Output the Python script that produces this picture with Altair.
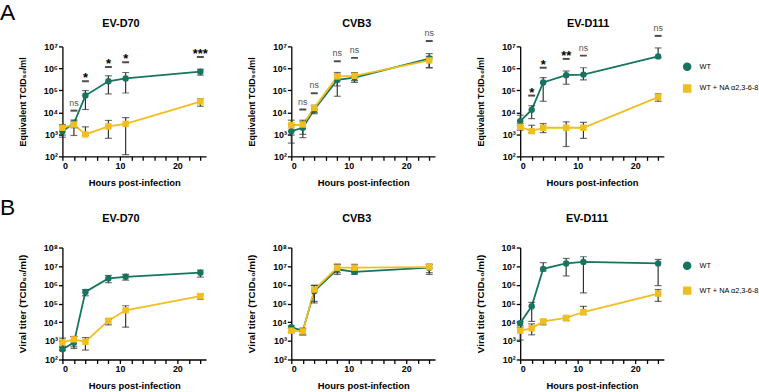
import altair as alt
import pandas as pd

FONT = "Liberation Sans"
GREEN = "#16745f"
YELLOW = "#f0bf1f"
EB = "#333333"

hours = [0, 2, 4, 8, 11, 24]
groups = ["WT", "WT + NA α2,3-6-8"]

# ---- Row A: Equivalent TCID50/ml ----
a_d70_wt = [1.4e3, 3.2e3, 5.8e4, 2.6e5, 3.5e5, 7.1e5]
a_d70_wt_lo = [7.4e2, 2.0e3, 1.35e4, 6.9e4, 7.6e4, 4.9e5]
a_d70_wt_hi = [2.8e3, 4.5e3, 9.8e4, 4.6e5, 6.5e5, 9.1e5]
a_d70_na = [2.0e3, 2.8e3, 1.0e3, 2.3e3, 3.0e3, 3.1e4]
a_d70_na_lo = [9.3e2, 8.9e2, 9.0e2, 6.6e2, 1.2e2, 1.9e4]
a_d70_na_hi = [2.6e3, 4.0e3, 2.2e3, 4.3e3, 5.8e3, 4.1e4]
a_d70_sig_h = [2, 4, 8, 11, 24]
a_d70_sig_t = ["ns", "*", "*", "*", "***"]
a_d70_sig_y = [1.2e4, 2.6e5, 1.15e6, 1.9e6, 3.3e6]

a_cvb3_wt = [1.4e3, 2.0e3, 1.35e4, 3.0e5, 3.8e5, 2.8e6]
a_cvb3_wt_lo = [4.0e2, 7.1e2, 8.7e3, 5.4e4, 2.3e5, 1.07e6]
a_cvb3_wt_hi = [2.8e3, 3.7e3, 2.0e4, 5.4e5, 6.0e5, 4.7e6]
a_cvb3_na = [2.6e3, 2.8e3, 1.6e4, 4.3e5, 4.6e5, 2.3e6]
a_cvb3_na_lo = [9.3e2, 1.0e3, 1.0e4, 1.6e5, 2.8e5, 1.07e6]
a_cvb3_na_hi = [4.4e3, 4.4e3, 2.1e4, 6.5e5, 6.5e5, 3.5e6]
a_cvb3_sig_h = [2, 4, 8, 11, 24]
a_cvb3_sig_t = ["ns", "ns", "ns", "ns", "ns"]
a_cvb3_sig_y = [1.35e4, 7.4e4, 2.1e6, 3.0e6, 1.75e7]

a_d111_wt = [4.0e3, 1.3e4, 2.3e5, 4.9e5, 5.2e5, 3.5e6]
a_d111_wt_lo = [2.5e3, 5.2e3, 3.2e4, 1.9e5, 3.0e5, 3.0e6]
a_d111_wt_hi = [7.4e3, 2.0e4, 3.8e5, 7.6e5, 1.07e6, 8.5e6]
a_d111_na = [2.2e3, 1.4e3, 2.0e3, 2.0e3, 2.0e3, 4.9e4]
a_d111_na_lo = [1.55e3, 1.2e3, 1.2e3, 2.8e2, 6.6e2, 3.2e4]
a_d111_na_hi = [3.1e3, 2.6e3, 3.1e3, 3.7e3, 3.5e3, 6.9e4]
a_d111_sig_h = [2, 4, 8, 11, 24]
a_d111_sig_t = ["*", "*", "**", "ns", "ns"]
a_d111_sig_y = [5.8e4, 1.07e6, 2.7e6, 3.8e6, 3.0e7]

# ---- Row B: Viral titer (TCID50/ml) ----
b_d70_wt = [3.5e2, 8.0e2, 4.2e5, 2.2e6, 2.7e6, 4.5e6]
b_d70_wt_lo = [3.0e2, 3.9e2, 2.6e5, 1.3e6, 1.8e6, 2.6e6]
b_d70_wt_hi = [4.5e2, 1.7e3, 5.6e5, 3.2e6, 3.6e6, 6.2e6]
b_d70_na = [8.3e2, 1.2e3, 8.9e2, 1.2e4, 4.3e4, 2.5e5]
b_d70_na_lo = [5.2e2, 4.8e2, 3.2e2, 7.2e3, 5.4e3, 1.7e5]
b_d70_na_hi = [1.4e3, 1.7e3, 1.5e3, 1.5e4, 7.6e4, 3.2e5]

b_cvb3_wt = [5.4e3, 3.4e3, 4.6e5, 6.8e6, 5.0e6, 8.3e6]
b_cvb3_wt_lo = [4.6e3, 2.1e3, 1.07e5, 3.6e6, 3.6e6, 3.6e6]
b_cvb3_wt_hi = [6.3e3, 4.8e3, 9.5e5, 1.26e7, 6.8e6, 1.26e7]
b_cvb3_na = [3.5e3, 3.2e3, 5.6e5, 8.3e6, 8.3e6, 8.9e6]
b_cvb3_na_lo = [2.8e3, 2.1e3, 1.3e5, 4.5e6, 4.5e6, 4.5e6]
b_cvb3_na_hi = [4.8e3, 4.3e3, 9.3e5, 1.26e7, 1.26e7, 1.26e7]

b_d111_wt = [8.9e3, 7.1e4, 7.2e6, 1.4e7, 1.7e7, 1.4e7]
b_d111_wt_lo = [6.3e3, 1.1e4, 5.5e6, 3.0e6, 3.7e5, 9.1e5]
b_d111_wt_hi = [1.1e4, 1.15e5, 1.55e7, 2.6e7, 3.2e7, 2.3e7]
b_d111_na = [3.5e3, 4.7e3, 1.1e4, 1.7e4, 3.5e4, 3.4e5]
b_d111_na_lo = [1.1e3, 2.1e3, 7.2e3, 1.2e4, 2.5e4, 1.3e5]
b_d111_na_hi = [5.0e3, 8.1e3, 1.35e4, 2.0e4, 7.1e4, 5.6e5]

SUP = "['⁰','¹','²','³','⁴','⁵','⁶','⁷','⁸','⁹']"


def panel(vals, sig, title, title_x, title_y, ytitle, ytitle_size, ymax_exp, height,
          legend_pos=None, label=None, label_y=-27):
    wt, wt_lo, wt_hi, na, na_lo, na_hi = vals
    df = pd.DataFrame({
        "hours": hours + hours,
        "mean": wt + na,
        "lo": wt_lo + na_lo,
        "hi": wt_hi + na_hi,
        "group": [groups[0]] * len(hours) + [groups[1]] * len(hours),
    })
    base = alt.Chart(df)
    xaxis = alt.Axis(values=list(range(0, 25, 2)),
                     labelExpr="datum.value % 10 === 0 ? datum.label : ''",
                     title="Hours post-infection")
    xscale = alt.Scale(domain=[0, 25], nice=False, zero=False)
    yscale = alt.Scale(type="log", domain=[1e2, 10 ** ymax_exp], nice=False)
    yaxis = alt.Axis(values=[10 ** k for k in range(2, ymax_exp + 1)],
                     labelExpr="'10' + " + SUP + "[round(log(datum.value)/LN10)]",
                     title=ytitle, titleFontSize=ytitle_size)

    def X():
        return alt.X("hours:Q", scale=xscale, axis=xaxis)

    def Y(f):
        return alt.Y(f + ":Q", scale=yscale, axis=yaxis)

    if legend_pos is not None:
        lx, ly, rp = legend_pos
        leg = alt.Legend(title=None, orient="none", legendX=lx, legendY=ly,
                         padding=0, labelFont=FONT, labelFontSize=7.4,
                         labelColor="black", symbolSize=50, labelOffset=8,
                         rowPadding=rp, symbolStrokeWidth=1.5)
    else:
        leg = None
    color = alt.Color("group:N", scale=alt.Scale(domain=groups, range=[GREEN, YELLOW]),
                      legend=leg)
    shape = alt.Shape("group:N", scale=alt.Scale(domain=groups, range=["circle", "square"]),
                      legend=leg)

    line = base.mark_line(strokeWidth=1.8).encode(x=X(), y=Y("mean"), color=color)
    rule = base.mark_rule(color=EB, strokeWidth=1.2).encode(x=X(), y=Y("lo"), y2="hi:Q")
    cap_lo = base.mark_tick(orient="horizontal", size=7, thickness=1.2, color=EB).encode(
        x=X(), y=Y("lo"))
    cap_hi = base.mark_tick(orient="horizontal", size=7, thickness=1.2, color=EB).encode(
        x=X(), y=Y("hi"))
    pts = base.mark_point(filled=True, opacity=1, size=42).encode(
        x=X(), y=Y("mean"), color=color, shape=shape)
    layers = [line, rule, cap_lo, cap_hi, pts]

    if sig is not None:
        sh, st, sy = sig
        sdf = pd.DataFrame({"hours": sh, "text": st, "y": sy})
        sbase = alt.Chart(sdf)
        dash = sbase.mark_tick(orient="horizontal", size=7, thickness=2, color="black").encode(
            x=X(), y=Y("y"))
        stars = sbase.transform_filter("datum.text !== 'ns'").mark_text(
            font=FONT, fontSize=13, fontWeight="bold", color="black",
            baseline="alphabetic", dy=1).encode(x=X(), y=Y("y"), text="text:N")
        ns = sbase.transform_filter("datum.text === 'ns'").mark_text(
            font=FONT, fontSize=9, color="#555555", baseline="alphabetic", dy=-5).encode(
            x=X(), y=Y("y"), text="text:N")
        layers += [dash, stars, ns]

    # panel title (placed relative to the plot area)
    ttl = alt.Chart(pd.DataFrame({"t": [title]})).mark_text(
        font=FONT, fontSize=11, fontWeight="bold", color="black",
        align="center", baseline="middle"
    ).encode(text="t:N", x=alt.value(title_x), y=alt.value(title_y))
    layers.append(ttl)

    if label is not None:
        lab = alt.Chart(pd.DataFrame({"t": [label]})).mark_text(
            font=FONT, fontSize=23, align="left", baseline="alphabetic", color="black"
        ).encode(text="t:N", x=alt.value(-63), y=alt.value(label_y))
        layers.append(lab)

    return alt.layer(*layers).properties(width=145, height=height)


rowA = alt.hconcat(
    panel((a_d70_wt, a_d70_wt_lo, a_d70_wt_hi, a_d70_na, a_d70_na_lo, a_d70_na_hi),
          (a_d70_sig_h, a_d70_sig_t, a_d70_sig_y), "EV-D70", 59, -22.7,
          "Equivalent TCID₅₀/ml", 9, 7, 111, label="A", label_y=-27),
    panel((a_cvb3_wt, a_cvb3_wt_lo, a_cvb3_wt_hi, a_cvb3_na, a_cvb3_na_lo, a_cvb3_na_hi),
          (a_cvb3_sig_h, a_cvb3_sig_t, a_cvb3_sig_y), "CVB3", 66, -22.7,
          "Equivalent TCID₅₀/ml", 9, 7, 111),
    panel((a_d111_wt, a_d111_wt_lo, a_d111_wt_hi, a_d111_na, a_d111_na_lo, a_d111_na_hi),
          (a_d111_sig_h, a_d111_sig_t, a_d111_sig_y), "EV-D111", 68.5, -22.7,
          "Equivalent TCID₅₀/ml", 9, 7, 111, legend_pos=(164, 16, 7)),
    spacing=86, bounds="flush",
).resolve_scale(color="independent", shape="independent").resolve_legend(
    color="independent", shape="independent")

rowB = alt.hconcat(
    panel((b_d70_wt, b_d70_wt_lo, b_d70_wt_hi, b_d70_na, b_d70_na_lo, b_d70_na_hi),
          None, "EV-D70", 59, -28.6, "Viral titer (TCID₅₀/ml)", 10, 8, 113,
          label="B", label_y=-33),
    panel((b_cvb3_wt, b_cvb3_wt_lo, b_cvb3_wt_hi, b_cvb3_na, b_cvb3_na_lo, b_cvb3_na_hi),
          None, "CVB3", 66, -28.6, "Viral titer (TCID₅₀/ml)", 10, 8, 113),
    panel((b_d111_wt, b_d111_wt_lo, b_d111_wt_hi, b_d111_na, b_d111_na_lo, b_d111_na_hi),
          None, "EV-D111", 67.5, -28.6, "Viral titer (TCID₅₀/ml)", 10, 8, 113,
          legend_pos=(164, 14, 10)),
    spacing=86, bounds="flush",
).resolve_scale(color="independent", shape="independent").resolve_legend(
    color="independent", shape="independent")

chart = alt.vconcat(rowA, rowB, spacing=10).resolve_scale(
    color="independent", shape="independent").resolve_legend(
    color="independent", shape="independent").properties(
    padding={"left": 0, "top": 0, "right": 0, "bottom": 0}
).configure_view(stroke=None).configure_axis(
    labelFont=FONT, labelFontSize=9, labelFontWeight="bold", labelColor="black",
    titleFont=FONT, titleFontSize=9.5, titleFontWeight="bold", titleColor="black",
    domainColor="black", domainWidth=1.3, tickColor="black", tickWidth=1.3,
    tickSize=4, labelPadding=1, grid=False,
).configure_axisX(titlePadding=7).configure_axisY(titlePadding=16)

chart.save("out.html", embed_options={"renderer": "svg", "actions": False})
